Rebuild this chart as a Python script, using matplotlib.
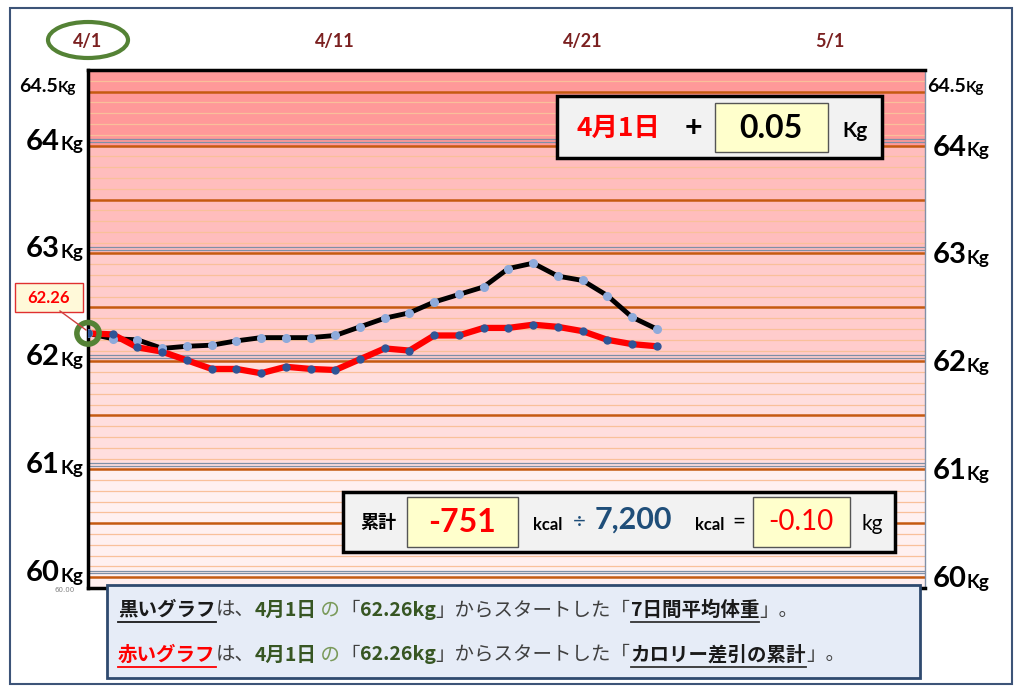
import matplotlib
matplotlib.use("Agg")
import matplotlib.pyplot as plt
from matplotlib.patches import Rectangle, Ellipse

days = list(range(24))
black_avg = [62.26,62.21,62.20,62.12,62.14,62.15,62.19,62.22,62.22,62.22,62.24,62.32,
             62.40,62.45,62.55,62.62,62.69,62.86,62.91,62.79,62.75,62.61,62.41,62.30]
red_cal = [62.26,62.25,62.13,62.09,62.01,61.93,61.93,61.89,61.95,61.93,61.92,62.02,
           62.12,62.10,62.24,62.24,62.31,62.31,62.34,62.32,62.28,62.20,62.16,62.14]
date_ticks = [0, 10, 20, 30]
date_labels = ["4/1", "4/11", "4/21", "5/1"]
y_labels = [64, 63, 62, 61, 60]

JP = "Noto Sans CJK JP"
NUM = "Liberation Sans"
W, H = 1024, 690
fig = plt.figure(figsize=(10.24, 6.9), dpi=100)
def P(x, y): return (x / W, 1 - y / H)
T = fig.transFigure

fig.patches.append(Rectangle(P(10, 684), 1002/W, 676/H, transform=T, fill=False,
                             ec="#3d5478", lw=1.5))

x0, x1, ytop, ybot = 88, 925, 70, 588
ax = fig.add_axes([x0/W, 1-ybot/H, (x1-x0)/W, (ybot-ytop)/H])
ymin, ymax = 59.9, 64.7
ax.set_xlim(0, 33.85); ax.set_ylim(ymin, ymax)
bands = [(64, ymax, "#ff9999"), (63, 64, "#ffbdbd"), (62, 63, "#ffcccc"),
         (61, 62, "#ffdede"), (ymin, 61, "#fff0f0")]
for a, b, c in bands:
    ax.axhspan(a, b, color=c, zorder=0, lw=0)
for i in range(int(ymin*10), int(ymax*10)+1):
    v = i / 10
    if v < ymin or v > ymax: continue
    if abs(v*2 - round(v*2)) < 1e-6:
        ax.axhline(v, color="#c55a11", lw=1.8, zorder=1)
        if abs(v - round(v)) < 1e-6:
            ax.axhline(v+0.035, color="#7f8fa6", lw=0.9, zorder=1)
            ax.axhline(v+0.06, color="#7f8fa6", lw=0.9, zorder=1)
    else:
        ax.axhline(v, color="#f9c09a", lw=0.9, zorder=1)
ax.plot(days, black_avg, color="black", lw=3.5, zorder=3)
ax.plot(days, black_avg, "o", color="#8eaadb", ms=5.5, zorder=4)
ax.plot(days, red_cal, color="#ff0000", lw=4.5, zorder=3)
ax.plot(days, red_cal, "o", color="#2f5597", ms=5, zorder=4)
ax.add_patch(Ellipse((0, 62.26), 0.9, 0.2, fill=False, ec="#548235", lw=4, zorder=5, clip_on=False))
ax.set_xticks([]); ax.set_yticks([])
for s in ax.spines.values():
    s.set_linewidth(2.5); s.set_color("black")
ax.spines["right"].set_linewidth(1); ax.spines["right"].set_color("#8090a8")

def ypix(v): return ytop + (ymax - v) / (ymax - ymin) * (ybot - ytop)
def xpix(d): return x0 + d / 33.85 * (x1 - x0)

for d, lab in zip(date_ticks, date_labels):
    fig.text(*P(xpix(d), 42), lab, transform=T, ha="center", va="center",
             fontsize=13, fontweight="bold", color="#7b2020", family="Lato")
fig.patches.append(Ellipse(P(88, 40), 80/W, 36/H, transform=T, fill=False, ec="#548235", lw=3))

for v in y_labels:
    y = ypix(v) - 4
    fig.text(*P(60, y), str(v), transform=T, ha="right", va="center", fontsize=21, fontweight="bold", family="Lato")
    fig.text(*P(60, y+3), "Kg", transform=T, ha="left", va="center", fontsize=13.5, fontweight="bold", family="Lato")
    fig.text(*P(967, y+6), str(v), transform=T, ha="right", va="center", fontsize=21, fontweight="bold", family="Lato")
    fig.text(*P(967, y+9), "Kg", transform=T, ha="left", va="center", fontsize=13.5, fontweight="bold", family="Lato")
fig.text(*P(58, 86), "64.5", transform=T, ha="right", va="center", fontsize=14, fontweight="bold", family="Lato")
fig.text(*P(58, 88), "Kg", transform=T, ha="left", va="center", fontsize=11, fontweight="bold", family="Lato")
fig.text(*P(966, 86), "64.5", transform=T, ha="right", va="center", fontsize=14, fontweight="bold", family="Lato")
fig.text(*P(966, 88), "Kg", transform=T, ha="left", va="center", fontsize=11, fontweight="bold", family="Lato")
fig.text(*P(65, 590), "60.00", transform=T, ha="center", va="center", fontsize=5, color="#808080")

# 62.26 callout
fig.lines.append(plt.Line2D([60/W, 86/W], [1-311/H, 1-330/H], transform=T, color="#d04040", lw=1))
fig.patches.append(Rectangle(P(15, 312), 68/W, 29/H, transform=T, fc="#fff9d9", ec="#e03030", lw=1))
fig.text(*P(49, 298), "62.26", transform=T, ha="center", va="center", fontsize=12, fontweight="bold", color="#ff0000", family="Lato")

def box(x, y, w, h, fc, ec, lw):
    fig.patches.append(Rectangle(P(x, y+h), w/W, h/H, transform=T, fc=fc, ec=ec, lw=lw, zorder=6))

box(557, 96, 325, 62, "#f2f2f2", "black", 2.5)
box(715, 103, 113, 49, "#ffffcc", "#555555", 1)
fig.text(*P(618, 128), "4月1日", transform=T, ha="center", va="center", fontsize=19, fontweight="bold", color="#ff0000", family=JP, zorder=7)
fig.text(*P(693, 128), "+", transform=T, ha="center", va="center", fontsize=22, fontweight="bold", family="Lato", zorder=7)
fig.text(*P(771, 128), "0.05", transform=T, ha="center", va="center", fontsize=23, fontweight="bold", family="Lato", zorder=7)
fig.text(*P(855, 131), "Kg", transform=T, ha="center", va="center", fontsize=15, fontweight="bold", family="Lato", zorder=7)

box(343, 492, 552, 60, "#f2f2f2", "black", 2.5)
box(407, 497, 111, 50, "#ffffcc", "#555555", 1)
box(753, 497, 97, 50, "#ffffcc", "#555555", 1)
fig.text(*P(378, 522), "累計", transform=T, ha="center", va="center", fontsize=13, fontweight="bold", family=JP, zorder=7)
fig.text(*P(462, 522), "-751", transform=T, ha="center", va="center", fontsize=23, fontweight="bold", color="#ff0000", family="Lato", zorder=7)
fig.text(*P(548, 525), "kcal", transform=T, ha="center", va="center", fontsize=12, fontweight="bold", family="Lato", zorder=7)
fig.text(*P(579, 522), "÷", transform=T, ha="center", va="center", fontsize=16, color="#1f4e79", family="Lato", zorder=7)
fig.text(*P(633, 520), "7,200", transform=T, ha="center", va="center", fontsize=22, fontweight="bold", color="#1f4e79", family="Lato", zorder=7)
fig.text(*P(710, 525), "kcal", transform=T, ha="center", va="center", fontsize=12, fontweight="bold", family="Lato", zorder=7)
fig.text(*P(739, 522), "=", transform=T, ha="center", va="center", fontsize=16, family="Lato", zorder=7)
fig.text(*P(801, 522), "-0.10", transform=T, ha="center", va="center", fontsize=20, color="#ff0000", family="Lato", zorder=7)
fig.text(*P(872, 524), "kg", transform=T, ha="center", va="center", fontsize=15, family="Lato", zorder=7)

box(107, 585, 813, 93, "#e6ecf7", "#2f4a6f", 2)
GREEN = "#375623"
def line(y, first, fcol, last):
    parts = [(first, fcol, "bold"), ("は、", "#404040", "normal"), ("4月1日", GREEN, "bold"),
             (" の", "#7a9a5a", "normal"), ("「", "#404040", "normal"), ("62.26kg", GREEN, "bold"),
             ("」からスタートした「", "#404040", "normal"), (last, "#1a1a1a", "bold"), ("」。", "#404040", "normal")]
    x = 118
    r = fig.canvas.get_renderer()
    for i, (s, c, w) in enumerate(parts):
        t = fig.text(*P(x, y), s, transform=T, ha="left", va="center", fontsize=14,
                     color=c, fontweight=w, family=JP, zorder=7)
        bb = t.get_window_extent(r)
        if i in (0, 7):
            fig.lines.append(plt.Line2D([x/W, (x+bb.width)/W], [1-(y+12)/H]*2, transform=T,
                                        color=c if i == 0 else "#333333", lw=1.3, zorder=7))
        x += bb.width
line(610, "黒いグラフ", "#1a1a1a", "7日間平均体重")
line(655, "赤いグラフ", "#ff0000", "カロリー差引の累計")

fig.savefig("out.png", dpi=100)
